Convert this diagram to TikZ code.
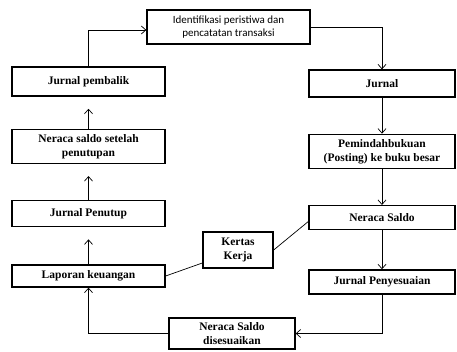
\documentclass[tikz,border=0pt]{standalone}
\usepackage{fontspec}
\setmainfont{Liberation Serif}
\newfontfamily\tnr{Liberation Serif}
\newfontfamily\carlito{Carlito}
\usetikzlibrary{positioning,arrows.meta}
\tikzset{
	stage/.style={draw, line width=1.3pt, align=center, inner sep=0pt,
		font=\tnr\bfseries\fontsize{11.5}{14}\selectfont},
	leftbox/.style={stage, minimum width=153pt},
	rightbox/.style={stage, minimum width=146pt},
	flow/.style={-{Straight Barb[length=4.5pt,width=8pt]}, line width=0.7pt},
	gapflow/.style={flow, shorten >=12pt},
	link/.style={line width=0.7pt}
}

\begin{document}
\begin{tikzpicture}[x=1pt, y=-1pt]
	\useasboundingbox (0,0) rectangle (457,351);
	\node[stage, font=\carlito\fontsize{11}{13}\selectfont, minimum width=163pt, minimum height=34pt] (ident) at (228.5,27) {Identifikasi peristiwa dan\\pencatatan transaksi};
	% kolom kanan
	\node[rightbox, minimum height=27pt] (jurnal) at (382,83.5) {Jurnal};
	\node[rightbox, minimum height=34pt, below=36pt of jurnal] (posting) {Pemindahbukuan\\(Posting) ke buku besar};
	\node[rightbox, minimum height=24pt, below=36pt of posting] (nsaldo) {Neraca Saldo};
	\node[rightbox, minimum height=24pt, below=39pt of nsaldo] (penyesuaian) {Jurnal Penyesuaian};
	% kolom kiri
	\node[leftbox, minimum height=22pt] (laporan) at (88.5,276) {Laporan keuangan};
	\node[leftbox, minimum height=26pt, above=37pt of laporan] (penutup) {Jurnal Penutup};
	\node[leftbox, minimum height=34pt, above=36pt of penutup] (setelah) {Neraca saldo setelah\\penutupan};
	\node[leftbox, minimum height=29pt, above=32pt of setelah] (pembalik) {Jurnal pembalik};
	% tengah
	\node[stage, minimum width=70pt, minimum height=36pt] (kertas) at (238,250) {Kertas\\Kerja};
	\node[stage, minimum width=126pt, minimum height=31pt] (nsd) at (232,333.5) {Neraca Saldo\\disesuaikan};
	
	\draw[flow] (pembalik.north) |- ([yshift=-3pt]ident.west);
	\draw[flow] (ident.east) -| (jurnal.north);
	\draw[flow] (jurnal.south) -- (posting.north);
	\draw[flow] (posting.south) -- (nsaldo.north);
	\draw[flow] (nsaldo.south) -- (penyesuaian.north);
	\draw[flow] (penyesuaian.south) |- (nsd.east);
	\draw[flow] (nsd.west) -| (laporan.south);
	\draw[gapflow] (laporan.north) -- (penutup.south);
	\draw[gapflow] (penutup.north) -- (setelah.south);
	\draw[gapflow] (setelah.north) -- (pembalik.south);
	\draw[link] (nsaldo.183) -- (kertas.east);
	\draw[link] (kertas.200) -- (laporan.east);
\end{tikzpicture}
\end{document}
